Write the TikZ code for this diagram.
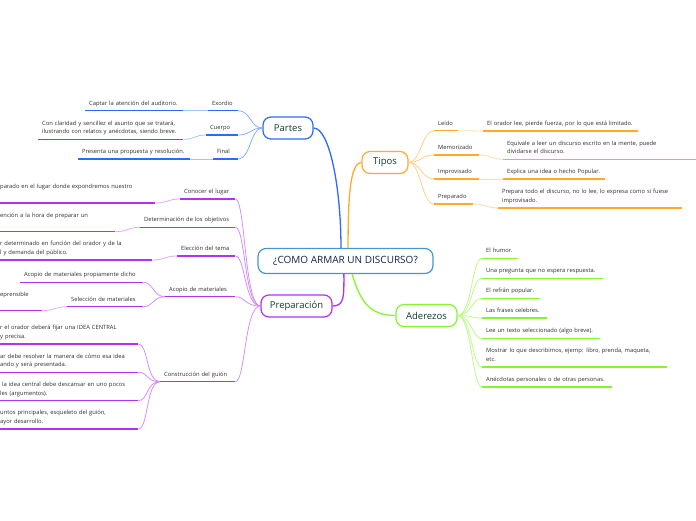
\documentclass[tikz,border=0pt]{standalone}
\usepackage{fontspec}
\setmainfont{Open Sans}
\usepackage{tikz}
\definecolor{partesblue}{RGB}{45,105,255}
\definecolor{tiposorange}{RGB}{255,170,40}
\definecolor{prepurple}{RGB}{175,50,245}
\definecolor{adergreen}{RGB}{135,245,45}
\definecolor{titleblue}{RGB}{70,150,210}
\definecolor{topictext}{RGB}{17,60,45}
\definecolor{titletext}{RGB}{20,35,75}
\definecolor{leaftext}{RGB}{45,45,45}

\begin{document}
\begin{tikzpicture}[x=1pt, y=-1pt,
  topic/.style={draw, rounded corners=8pt, line width=1.2pt, fill=white, minimum height=22pt, inner sep=2pt, text=topictext, font=\fontsize{9.5}{11}\selectfont},
  leaf/.style={anchor=south west, align=left, inner xsep=4pt, inner ysep=2.5pt, text=leaftext, font=\fontsize{5.8}{8.8}\selectfont, execute at end node=\strut},
  trunk/.style={draw=#1, line width=1.3pt},
  fan/.style={draw=#1!55, line width=0.8pt},
  link/.style={draw=#1!40, line width=0.8pt},
  ul/.style={draw=#1, line width=1.4pt}
]
\useasboundingbox (0,0) rectangle (696,520);

% main topics
\node[topic, draw=titleblue, minimum width=175pt, minimum height=25pt, text=titletext, font=\fontsize{10}{12}\selectfont] (central) at (345.5,261) {¿COMO ARMAR UN DISCURSO?};
\node[topic, draw=partesblue, minimum width=50pt] (partes) at (288,128) {Partes};
\node[topic, draw=tiposorange, minimum width=46pt] (tipos) at (385,162.5) {Tipos};
\node[topic, draw=prepurple, minimum width=71pt] (prep) at (296.5,306) {Preparación};
\node[topic, draw=adergreen, minimum width=61pt] (ader) at (426.5,315.5) {Aderezos};

% Partes
\node[leaf, text width=22pt] (exordio) at (208,110.7) {Exordio};
\node[leaf, text width=90pt] (captar) at (85,110.7) {Captar la atención del auditorio.};
\node[leaf, text width=24pt] (cuerpo) at (206,135) {Cuerpo};
\node[leaf, text width=137pt] (claridad) at (38,139.3) {Con claridad y sencillez el asunto que se tratará,\\ilustrando con relatos y anécdotas, siendo breve.};
\node[leaf, text width=17pt] (final) at (213,159) {Final};
\node[leaf, text width=104pt] (propuesta) at (78,159) {Presenta una propuesta y resolución.};

% Tipos
\node[leaf, text width=16pt] (leido) at (434,130.7) {Leído};
\node[leaf, text width=147pt] (lee) at (483,131) {El orador lee, pierde fuerza, por lo que está limitado.};
\node[leaf, text width=37pt] (memo) at (434,155) {Memorizado};
\node[leaf, text width=185pt] (equivale) at (503,159.3) {Equivale a leer un discurso escrito en la mente, puede\\dividarse el discurso.};
\node[leaf, text width=37pt] (impro) at (434,179) {Improvisado};
\node[leaf, text width=94pt] (explica) at (503,179) {Explica una idea o hecho Popular.};
\node[leaf, text width=31pt] (prepa) at (434,204) {Preparado};
\node[leaf, text width=176pt] (prepara) at (498,208) {Prepara todo el discurso, no lo lee, lo expresa como si fuese\\improvisado.};

% Aderezos
\node[leaf, text width=28pt] (humor) at (482,258.3) {El humor.};
\node[leaf, text width=113pt] (pregunta) at (482,278.3) {Una pregunta que no espera respuesta.};
\node[leaf, text width=50pt] (refran) at (482,298.3) {El refrán popular.};
\node[leaf, text width=57pt] (frases) at (482,318) {Las frases celebres.};
\node[leaf, text width=110pt] (texto) at (482,338.3) {Lee un texto seleccionado (algo breve).};
\node[leaf, text width=177pt] (mostrar) at (482,367) {Mostrar lo que describimos, ejemp: libro, prenda, maqueta,\\etc.};
\node[leaf, text width=122pt] (anecdotas) at (482,387) {Anécdotas personales o de otras personas.};

% Preparacion
\node[leaf, text width=47pt] (lugar) at (180,199) {Conocer el lugar};
\node[leaf, text width=151pt] (lugarT) at (-4,203) {parado en el lugar donde expondremos nuestro\\\mbox{}};
\node[leaf, text width=87pt] (objetivos) at (140,227.3) {Determinación de los objetivos};
\node[leaf, text width=111pt] (objetivosT) at (-4,231.7) {ención a la hora de preparar un\\\mbox{}};
\node[leaf, text width=50pt] (tema) at (177,256) {Elección del tema};
\node[leaf, text width=148pt] (temaT) at (-4,260) {r determinado en función del orador y de la\\l y demanda del público.};
\node[leaf, text width=62pt] (acopio) at (165,296.7) {Acopio de materiales};
\node[leaf, text width=115pt] (propiamente) at (20,282.3) {Acopio de materiales propiamente dicho};
\node[leaf, text width=68pt] (seleccion) at (67,306.7) {Selección de materiales};
\node[leaf, text width=38pt] (seleccionT) at (-4,310.7) {eprensible\\\mbox{}};
\node[leaf, text width=67pt] (guion) at (160,381.7) {Construcción del guión};
\node[leaf, text width=134pt] (idea1) at (-4,344) {r el orador deberá fijar una IDEA CENTRAL\\y precisa.};
\node[leaf, text width=134pt] (idea2) at (-4,372.3) {ar debe resolver la manera de cómo esa idea\\ando y será presentada.};
\node[leaf, text width=134pt] (idea3) at (-4,400.7) {\ la idea central debe descansar en uno pocos\\les (argumentos).};
\node[leaf, text width=134pt] (idea4) at (-4,429) {untos principales, esqueleto del guión,\\ayor desarrollo.};

% trunks
\draw[trunk=partesblue] (central.109) .. controls +(0,-60) and +(16,0) .. (partes.east);
\draw[trunk=tiposorange] (central.79) .. controls +(0,-45) and +(-12,0) .. (tipos.west);
\draw[trunk=prepurple] (central.263) .. controls +(0,22) and +(12,0) .. (prep.east);
\draw[trunk=adergreen] (central.297) .. controls +(8,28) and +(-25,0) .. (ader.west);

% fans
\foreach \n in {exordio,cuerpo,final}
  \draw[fan=partesblue] (partes.west) .. controls +(-12,0) and +(12,0) .. (\n.south east);
\foreach \n in {leido,memo,impro,prepa}
  \draw[fan=tiposorange] (tipos.east) .. controls +(12,0) and +(-12,0) .. (\n.south west);
\foreach \n in {humor,pregunta,refran,frases,texto,mostrar,anecdotas}
  \draw[fan=adergreen] (ader.east) .. controls +(14,0) and +(-10,0) .. (\n.south west);
\foreach \n in {lugar,objetivos,tema,acopio,guion}
  \draw[fan=prepurple] (prep.west) .. controls +(-16,0) and +(10,0) .. (\n.south east);

% links to details
\draw[link=partesblue] (exordio.south west) -- (captar.south east);
\draw[link=partesblue] (cuerpo.south west) .. controls +(-12,0) and +(12,0) .. (claridad.south east);
\draw[link=partesblue] (final.south west) -- (propuesta.south east);
\draw[link=tiposorange] (leido.south east) -- (lee.south west);
\draw[link=tiposorange] (memo.south east) .. controls +(12,0) and +(-12,0) .. (equivale.south west);
\draw[link=tiposorange] (impro.south east) -- (explica.south west);
\draw[link=tiposorange] (prepa.south east) .. controls +(12,0) and +(-12,0) .. (prepara.south west);
\draw[link=prepurple] (lugar.south west) .. controls +(-12,0) and +(12,0) .. (lugarT.south east);
\draw[link=prepurple] (objetivos.south west) .. controls +(-12,0) and +(12,0) .. (objetivosT.south east);
\draw[link=prepurple] (tema.south west) .. controls +(-12,0) and +(12,0) .. (temaT.south east);
\draw[link=prepurple] (seleccion.south west) .. controls +(-12,0) and +(12,0) .. (seleccionT.south east);
\foreach \n in {propiamente,seleccion}
  \draw[fan=prepurple] (acopio.south west) .. controls +(-12,0) and +(10,0) .. (\n.south east);
\foreach \n in {idea1,idea2,idea3,idea4}
  \draw[fan=prepurple] (guion.south west) .. controls +(-14,0) and +(10,0) .. (\n.south east);

% underlines
\foreach \n in {exordio,captar,cuerpo,claridad,final,propuesta}
  \draw[ul=partesblue] (\n.south west) -- (\n.south east);
\foreach \n in {leido,lee,memo,equivale,impro,explica,prepa,prepara}
  \draw[ul=tiposorange] (\n.south west) -- (\n.south east);
\foreach \n in {humor,pregunta,refran,frases,texto,mostrar,anecdotas}
  \draw[ul=adergreen] (\n.south west) -- (\n.south east);
\foreach \n in {lugar,lugarT,objetivos,objetivosT,tema,temaT,acopio,propiamente,seleccion,seleccionT,guion,idea1,idea2,idea3,idea4}
  \draw[ul=prepurple] (\n.south west) -- (\n.south east);
\end{tikzpicture}
\end{document}
